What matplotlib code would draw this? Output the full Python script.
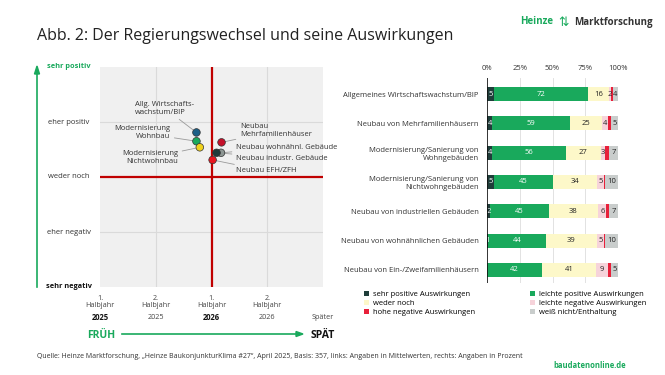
import numpy as np
import matplotlib.pyplot as plt

plt.rcParams['font.family'] = ['Open Sans', 'DejaVu Sans']

# --- left: expected timing (x) vs. impact (y), mean values
topics = ['Allg. Wirtschafts-\nwachstum/BIP', 'Modernisierung\nWohnbau', 'Modernisierung\nNichtwohnbau',
          'Neubau\nMehrfamilienhäuser', 'Neubau wohnähnl. Gebäude', 'Neubau industr. Gebäude', 'Neubau EFH/ZFH']
timing = [2.73, 2.73, 2.79, 3.18, 3.17, 3.09, 3.02]
impact = [0.81, 0.65, 0.54, 0.63, 0.44, 0.44, 0.31]
dot_colors = ['#1d5f86', '#19a95c', '#f0d21c', '#c4102a', '#8d9693', '#1f3b3b', '#e8161f']

x_ticks = ['1.\nHalbjahr', '2.\nHalbjahr', '1.\nHalbjahr', '2.\nHalbjahr', '']
x_years = ['2025', '2025', '2026', '2026', 'Später']
y_ticks = ['sehr negativ', 'eher negativ', 'weder noch', 'eher positiv', 'sehr positiv']

# --- right: stacked percentages
categories = ['Allgemeines Wirtschaftswachstum/BIP', 'Neubau von Mehrfamilienhäusern',
              'Modernisierung/Sanierung von\nWohngebäuden', 'Modernisierung/Sanierung von\nNichtwohngebäuden',
              'Neubau von industriellen Gebäuden', 'Neubau von wohnähnlichen Gebäuden',
              'Neubau von Ein-/Zweifamilienhäusern']
sehr_pos = [5, 4, 4, 5, 2, 1, 0]
leicht_pos = [72, 59, 56, 45, 45, 44, 42]
weder = [16, 25, 27, 34, 38, 39, 41]
leicht_neg = [2, 4, 3, 5, 6, 5, 9]
hohe_neg = [1, 3, 3, 1, 2, 1, 3]
weiss_nicht = [4, 5, 7, 10, 7, 10, 5]

W, H = 665, 375
fig = plt.figure(figsize=(6.65, 3.75), dpi=100)


def px(x, y):
    return x / W, 1 - y / H


fig.text(*px(37, 36), 'Abb. 2: Der Regierungswechsel und seine Auswirkungen', fontsize=11.5,
         va='center', ha='left', color='#222222')
fig.text(*px(553, 22), 'Heinze', fontsize=7, fontweight='bold', color='#19a95c', ha='right', va='center')
fig.text(*px(564, 22), '⇅', fontsize=9, color='#19a95c', ha='center', va='center', family='DejaVu Sans')
fig.text(*px(574, 22), 'Marktforschung', fontsize=7, fontweight='bold', color='#333333', ha='left', va='center')

# scatter panel
ax = fig.add_axes([100 / W, 1 - 287 / H, 223 / W, 220 / H])
ax.set_facecolor('#f0f0f0')
ax.set_xlim(1, 5)
ax.set_ylim(-2, 2)
for v in [2, 4]:
    ax.axvline(v, color='#dadada', lw=0.8, zorder=0)
for v in [-1, 1]:
    ax.axhline(v, color='#dadada', lw=0.8, zorder=0)
ax.axvline(3, color='#c00000', lw=1.6, zorder=1)
ax.axhline(0, color='#c00000', lw=1.6, zorder=1)
for s in ax.spines.values():
    s.set_visible(False)
ax.set_xticks([])
ax.set_yticks([])

label_pos = [(1.63, 1.25, 'left'), (2.26, 0.80, 'right'), (2.40, 0.35, 'right'),
             (3.51, 0.84, 'left'), (3.44, 0.545, 'left'), (3.44, 0.345, 'left'), (3.44, 0.11, 'left')]
for t, xv, yv, c, (lx, ly, ha) in zip(topics, timing, impact, dot_colors, label_pos):
    ax.annotate(t, xy=(xv, yv), xytext=(lx, ly), fontsize=5.5, ha=ha, va='center', color='#333333',
                multialignment=ha,
                arrowprops=dict(arrowstyle='-', color='#9a9a9a', lw=0.6, shrinkA=1, shrinkB=2))
ax.scatter(timing, impact, s=30, c=dot_colors, edgecolors='#333333', linewidths=0.5, zorder=3)

for i, (t, yr) in enumerate(zip(x_ticks, x_years)):
    xv = i + 1
    ax.text(xv, -2.14, t, fontsize=5.2, ha='center', va='top',
            color='#444444', linespacing=1.05, clip_on=False)
    bold = i in (0, 2)
    ax.text(xv, -2.55, yr, fontsize=5.5 if bold else 5.2, ha='center', va='center',
            fontweight='bold' if bold else 'normal', color='#111111' if bold else '#444444', clip_on=False)

for i, t in enumerate(y_ticks):
    yv = i - 2
    style = {}
    color = '#333333'
    if i == 0:
        style = dict(fontweight='bold')
        color = '#111111'
    if i == 4:
        style = dict(fontweight='bold')
        color = '#19a95c'
    ax.text(-31 / 223, yv, t, transform=ax.get_yaxis_transform(), fontsize=5.3 if i in (0, 4) else 5.5,
            ha='center', va='center', color=color, clip_on=False, **style)

# vertical and horizontal green arrows
fig.add_artist(plt.Line2D([37 / W, 37 / W], [1 - 287 / H, 1 - 72 / H], color='#19a95c', lw=1.2))
fig.add_artist(plt.Polygon([px(34.5, 74), px(39.5, 74), px(37, 66)], closed=True, color='#19a95c'))
fig.text(*px(101, 335), 'FRÜH', fontsize=7.5, fontweight='bold', color='#19a95c', ha='center', va='center')
fig.add_artist(plt.Line2D([122 / W, 298 / W], [1 - 334 / H] * 2, color='#19a95c', lw=1.2))
fig.add_artist(plt.Polygon([px(296, 331.5), px(296, 336.5), px(303, 334)], closed=True, color='#19a95c'))
fig.text(*px(311, 335), 'SPÄT', fontsize=7.5, fontweight='bold', color='#111111', ha='left', va='center')

# stacked bar panel
bx = fig.add_axes([487 / W, 1 - 283 / H, 131 / W, 205 / H])
y = np.arange(len(categories))
series = [sehr_pos, leicht_pos, weder, leicht_neg, hohe_neg, weiss_nicht]
names = ['sehr positive Auswirkungen', 'leichte positive Auswirkungen', 'weder noch',
         'leichte negative Auswirkungen', 'hohe negative Auswirkungen', 'weiß nicht/Enthaltung']
colors = ['#1f3d3a', '#19a95c', '#fdf8c9', '#f6d3da', '#e8203a', '#c9cdcc']
text_colors = ['white', 'white', '#222222', '#222222', None, '#222222']
left = np.zeros(len(categories))
handles = []
for vals, name, col, tc in zip(series, names, colors, text_colors):
    vals = np.array(vals, dtype=float)
    h = bx.barh(y, vals, left=left, height=0.48, color=col, label=name, zorder=2)
    handles.append(h)
    if tc is not None:
        for yi, (l, v) in enumerate(zip(left, vals)):
            if v > 0:
                bx.text(l + v / 2, yi, f'{v:.0f}', ha='center', va='center', fontsize=5.5, color=tc, zorder=3)
    left += vals

bx.set_xlim(0, 100)
bx.set_ylim(6.45, -0.55)
bx.set_yticks(y)
bx.set_yticklabels(categories, fontsize=5.5, color='#333333', linespacing=1.3)
bx.set_xticks([0, 25, 50, 75, 100])
bx.set_xticklabels(['0%', '25%', '50%', '75%', '100%'], fontsize=5.5, color='#333333')
bx.xaxis.tick_top()
bx.tick_params(length=0, pad=4)
bx.tick_params(axis='y', pad=6)
for v in [25, 50, 75, 100]:
    bx.axvline(v, color='#e2e2e2', lw=0.7, zorder=0)
bx.axvline(0, color='#111111', lw=1.2, zorder=4)
for s in bx.spines.values():
    s.set_visible(False)

order = [0, 2, 4, 1, 3, 5]
fig.legend([handles[i] for i in order], [names[i] for i in order], ncol=2, loc='upper left',
           bbox_to_anchor=(360 / W, 1 - 287 / H), frameon=False, fontsize=5.5, handlelength=0.7,
           handleheight=0.7, handletextpad=0.5, columnspacing=7.2, labelspacing=0.2, borderpad=0)

fig.text(*px(37, 357), 'Quelle: Heinze Marktforschung, „Heinze BaukonjunkturKlima #27“, April 2025, Basis: 357, '
         'links: Angaben in Mittelwerten, rechts: Angaben in Prozent', fontsize=5, color='#333333', va='center')
fig.text(*px(626, 366), 'baudatenonline.de', fontsize=5.5, fontweight='bold', color='#19a95c',
         ha='right', va='center')

fig.savefig('out.png', dpi=100)
